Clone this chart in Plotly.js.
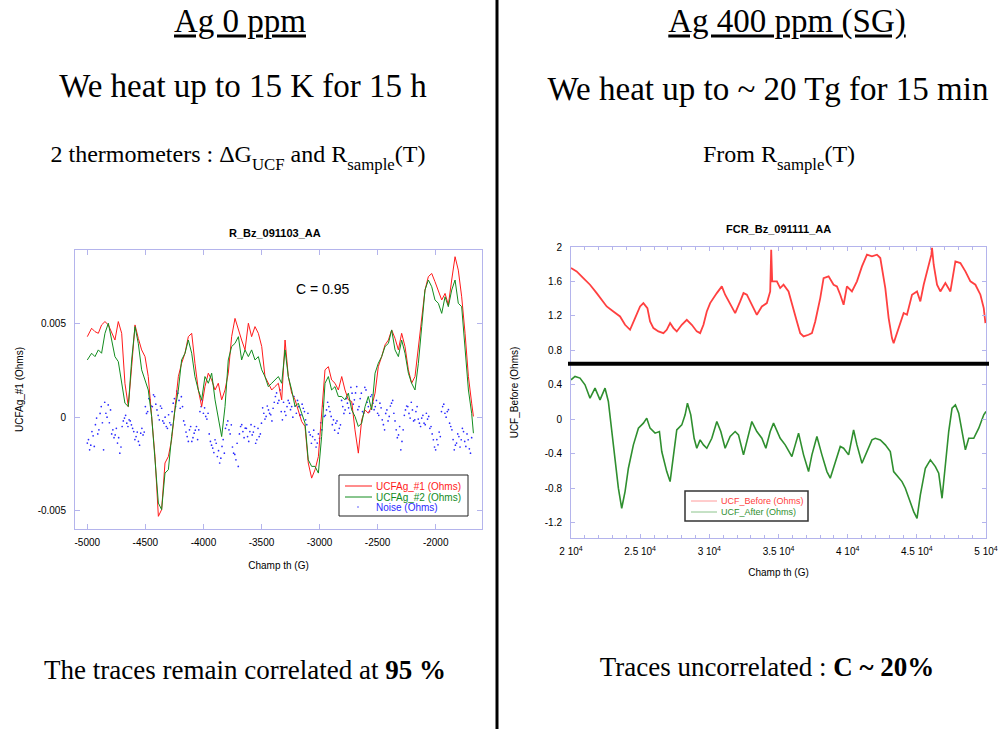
<!DOCTYPE html>
<html>
<head>
<meta charset="utf-8">
<script src="https://cdn.plot.ly/plotly-3.0.1.min.js"></script>
<style>
html,body{margin:0;padding:0;background:#fff}
#wrap{position:relative;width:1005px;height:729px;overflow:hidden}
#chart{position:absolute;left:0;top:0;width:1005px;height:729px}
.slide{position:absolute;white-space:nowrap;line-height:1;font-family:'Liberation Serif','Times New Roman',serif;color:#000;transform:translate(-50%,-50%);margin:0}
</style>
</head>
<body>
<div id="wrap">
<div id="chart"></div>
</div>
<script>
// ---------------- Left chart data (Ag 0 ppm) ----------------
const fieldL = [-5000,-4963,-4934,-4905,-4877,-4848,-4819,-4790,-4762,-4733,-4704,-4676,-4647,-4618,-4589,-4561,-4532,-4503,-4475,-4446,-4417,-4388,-4360,-4331,-4302,-4274,-4245,-4216,-4188,-4159,-4130,-4101,-4073,-4044,-4015,-3987,-3958,-3929,-3900,-3872,-3843,-3814,-3786,-3757,-3728,-3699,-3671,-3642,-3613,-3585,-3556,-3527,-3498,-3470,-3441,-3412,-3384,-3355,-3326,-3297,-3269,-3240,-3211,-3183,-3154,-3125,-3097,-3068,-3039,-3010,-2982,-2953,-2924,-2896,-2867,-2838,-2809,-2781,-2752,-2723,-2695,-2666,-2637,-2608,-2580,-2551,-2522,-2494,-2465,-2436,-2407,-2379,-2350,-2321,-2293,-2264,-2235,-2207,-2178,-2149,-2120,-2092,-2063,-2034,-2006,-1977,-1948,-1919,-1891,-1862,-1833,-1805,-1776,-1747,-1718,-1690,-1675];
// values in milli-ohms
const ucfAg1_mOhm = [4.32,4.77,4.59,4.50,4.95,5.13,4.95,4.50,4.14,5.13,4.50,1.82,0.57,2.71,4.95,4.23,3.61,3.25,2.18,0.04,-2.11,-5.32,-4.96,-2.46,-2.11,-1.21,0.39,2.18,2.89,3.43,4.32,4.50,2.89,1.46,0.57,1.64,2.36,2.00,1.46,1.82,0.93,1.46,2.36,4.32,5.30,4.68,4.14,3.61,5.04,4.32,4.86,4.50,3.79,2.18,1.82,1.46,1.64,1.82,0.93,4.14,2.18,1.29,0.93,0.39,-0.23,-0.50,-2.46,-3.27,-2.82,-2.11,0.04,2.54,2.71,2.00,1.82,1.46,2.18,1.46,0.93,0.84,-0.68,-1.93,-0.14,0.39,0.21,0.57,1.29,2.71,3.25,3.88,4.14,4.68,4.23,3.61,4.50,3.79,2.54,1.82,2.18,3.79,5.39,6.82,7.54,7.71,7.27,6.82,6.29,6.64,6.02,7.36,8.61,7.89,6.46,4.50,2.18,0.75,0.04];
const ucfAg2_mOhm = [3.07,3.43,3.25,3.61,3.43,4.50,5.04,4.14,3.25,2.98,1.82,0.75,0.57,3.07,4.86,3.96,2.54,2.00,1.46,0.04,-2.11,-4.61,-4.96,-3.00,-2.82,-1.04,0.39,1.46,3.07,3.43,4.14,3.43,2.18,1.46,0.93,2.18,1.82,2.36,0.93,0.04,-1.04,0.57,3.07,3.79,3.96,4.32,3.07,3.61,3.25,3.61,3.07,3.25,2.54,2.18,1.64,1.82,2.00,2.18,1.82,3.61,2.18,1.46,0.57,0.75,0.21,-0.32,-2.29,-2.64,-2.64,-3.00,-1.04,1.82,2.18,1.46,1.64,1.11,1.11,0.93,1.29,0.39,0.04,-0.50,-0.32,0.57,1.11,0.39,2.36,2.89,3.25,3.79,3.96,4.68,3.61,3.25,4.14,3.43,2.36,1.82,1.46,2.89,4.86,6.82,7.36,7.00,6.29,6.11,5.57,6.46,5.93,6.82,7.36,6.11,5.93,3.61,1.46,0.21,-0.86];
const noiseFieldA = [-5000,-4980,-4960,-4940,-4920,-4900,-4880,-4860,-4840,-4820,
  -4800,-4780,-4760,-4740,-4720,-4700,-4680,-4660,-4640,-4620,
  -4600,-4580,-4560,-4540,-4520,-4500,-4480,-4460,-4440,-4420,
  -4400,-4380,-4360,-4340,-4320,-4300,-4280,-4260,-4240,-4220,
  -4200,-4180,-4160,-4140,-4120,-4100,-4080,-4060,-4040,-4020,
  -4000,-3980,-3960,-3940,-3920,-3900,-3880,-3860,-3840,-3820,
  -3800,-3780,-3760,-3740,-3720,-3700,-3680,-3660,-3640,-3620,
  -3600,-3580,-3560,-3540,-3520,-3500,-3480,-3460,-3440,-3420,
  -3400,-3380,-3360,-3340,-3320,-3300,-3280,-3260,-3240,-3220,
  -3200,-3180,-3160,-3140,-3120,-3100,-3080,-3060,-3040,-3020,
  -3000,-2980,-2960,-2940,-2920,-2900,-2880,-2860,-2840,-2820,
  -2800,-2780,-2760,-2740,-2720,-2700,-2680,-2660,-2640,-2620,
  -2600,-2580,-2560,-2540,-2520,-2500,-2480,-2460,-2440,-2420,
  -2400,-2380,-2360,-2340,-2320,-2300,-2280,-2260,-2240,-2220,
  -2200,-2180,-2160,-2140,-2120,-2100,-2080,-2060,-2040,-2020,
  -2000,-1980,-1960,-1940,-1920,-1900,-1880,-1860,-1840,-1820,
  -1800,-1780,-1760,-1740,-1720,-1700];
const noiseA_mOhm = [-1.39,-1.75,-0.77,-1.57,-0.05,-0.68,0.57,-1.75,0.21,0.66,
  0.39,-0.68,-0.95,-1.39,-1.93,-0.50,-0.05,-0.32,-0.14,-0.41,
  -0.77,-1.04,-1.30,-0.86,-0.95,0.57,0.30,0.93,0.57,1.11,
  0.39,-0.14,0.48,-0.32,-0.50,0.13,-0.41,0.75,0.57,1.29,
  0.48,0.57,-0.41,-1.04,-0.68,-1.30,-0.86,-0.50,-0.68,0.57,
  0.21,0.04,0.21,-1.30,-1.66,-1.21,-2.11,-2.46,-1.57,-1.93,
  -0.41,-0.68,-0.41,-1.93,-2.29,-2.64,-0.50,-0.77,-0.59,-1.04,
  -0.77,-0.95,-0.50,-1.21,-1.04,-0.32,0.21,0.04,0.39,0.13,
  0.48,1.11,0.75,1.46,-0.14,0.30,0.57,0.75,0.57,1.11,
  0.21,0.57,0.13,0.48,-0.14,0.21,-0.95,-1.04,-1.21,-1.39,
  -1.13,-0.68,0.04,0.39,0.57,0.04,-0.14,-0.32,-0.86,-0.41,
  0.57,0.39,0.75,0.21,1.29,0.93,1.64,0.57,1.29,0.21,
  1.46,0.57,1.11,0.75,0.57,0.21,0.75,-0.14,-0.68,0.39,
  0.04,0.75,0.21,-0.68,-0.95,-1.75,-0.68,0.39,0.57,-0.05,
  0.39,-0.14,0.57,-0.32,-0.05,-0.32,0.21,0.04,-0.50,-1.21,
  -1.75,-1.48,-1.04,0.57,0.21,0.30,-0.32,-0.68,-1.75,-1.39,
  -1.04,-1.21,-0.77,-1.57,-1.21,-1.93];
const noiseFieldB = [-4990,-4970,-4950,-4930,-4910,-4890,-4870,-4850,-4830,-4810,
  -4790,-4770,-4750,-4730,-4710,-4690,-4670,-4650,-4630,-4610,
  -4590,-4570,-4550,-4530,-4510,-4490,-4470,-4450,-4430,-4410,
  -4390,-4370,-4350,-4330,-4310,-4290,-4270,-4250,-4230,-4210,
  -4190,-4170,-4150,-4130,-4110,-4090,-4070,-4050,-4030,-4010,
  -3990,-3970,-3950,-3930,-3910,-3890,-3870,-3850,-3830,-3810,
  -3790,-3770,-3750,-3730,-3710,-3690,-3670,-3650,-3630,-3610,
  -3590,-3570,-3550,-3530,-3510,-3490,-3470,-3450,-3430,-3410,
  -3390,-3370,-3350,-3330,-3310,-3290,-3270,-3250,-3230,-3210,
  -3190,-3170,-3150,-3130,-3110,-3090,-3070,-3050,-3030,-3010,
  -2990,-2970,-2950,-2930,-2910,-2890,-2870,-2850,-2830,-2810,
  -2790,-2770,-2750,-2730,-2710,-2690,-2670,-2650,-2630,-2610,
  -2590,-2570,-2550,-2530,-2510,-2490,-2470,-2450,-2430,-2410,
  -2390,-2370,-2350,-2330,-2310,-2290,-2270,-2250,-2230,-2210,
  -2190,-2170,-2150,-2130,-2110,-2090,-2070,-2050,-2030,-2010,
  -1990,-1970,-1950,-1930,-1910,-1890,-1870,-1850,-1830,-1810,
  -1790,-1770,-1750,-1730,-1710,-1690];
const noiseB_mOhm = [-1.2,-1.5,-1.0,-0.4,-0.9,0.2,-0.3,0.8,0.0,-0.3,
  -0.9,-1.1,-0.6,-1.1,-1.6,-0.2,0.1,-0.5,-0.2,-0.6,
  -1.2,-0.8,-1.5,-0.6,-0.8,0.2,1.0,0.6,1.2,0.7,
  0.1,0.6,-0.2,0.0,-0.6,-0.3,0.3,1.0,1.4,0.9,
  1.1,-0.2,-0.8,-1.3,-0.5,-1.1,-0.7,-1.2,0.3,0.9,
  0.5,-0.1,-0.9,-1.5,-1.9,-1.4,-1.8,-2.2,-1.2,-0.6,
  -0.2,-0.9,-1.6,-2.0,-1.4,-0.9,-0.4,-1.1,-0.6,-1.3,
  -0.4,-0.8,-1.4,-0.6,-0.9,0.5,-0.1,0.6,0.2,-0.2,
  0.8,1.3,0.9,0.3,0.8,0.1,0.9,0.4,0.0,0.6,
  0.9,0.1,0.7,0.3,-0.4,-0.8,-1.4,-0.7,-1.6,-0.9,
  -0.3,0.6,0.1,0.8,0.3,-0.4,-0.7,-0.2,-0.6,0.9,
  0.2,1.0,0.5,1.6,0.7,1.3,0.4,1.0,0.3,1.6,
  0.8,0.3,1.2,0.4,0.9,0.1,0.5,-0.4,0.2,-0.2,
  0.6,0.9,-0.2,-1.1,-0.5,-1.3,0.1,0.6,0.2,0.8,
  -0.2,0.3,-0.1,-0.5,0.1,-0.4,-0.1,-0.6,-0.9,-1.6,
  -1.2,-0.8,0.3,0.7,0.0,0.4,-0.5,-1.2,-1.5,-0.9,
  -1.6,-0.6,-1.3,-0.9,-1.7,-1.1];
const xTickValsL = [-5000,-4500,-4000,-3500,-3000,-2500,-2000];
const xTickTextL = ['-5000','-4500','-4000','-3500','-3000','-2500','-2000'];
const yTickValsL = [-0.005,0,0.005];
const yTickTextL = ['-0.005','0','0.005'];
const correlationLabel = 'C = 0.95';

// ---------------- Right chart data (Ag 400 ppm) ----------------
const fieldBefore = [20000,20410,20892,21375,21857,22340,22581,23063,23546,23907,24269,24631,24993,25234,25523,25716,25958,26319,26681,26922,27164,27405,27646,28008,28370,28731,29093,29334,29576,29817,30058,30541,30902,31143,31505,31867,32229,32470,32711,33073,33435,33797,34158,34400,34472,34544,34882,35123,35364,35726,36088,36329,36570,36812,37173,37415,37656,38018,38259,38621,38982,39224,39465,39706,39947,40309,40671,41033,41395,41756,42118,42359,42721,42962,43203,43324,43686,44048,44289,44651,45013,45254,45495,45857,46050,46098,46146,46219,46460,46701,47063,47425,47787,48149,48511,48872,49234,49596,49837,49958];
const ucfBefore = [1.756,1.717,1.639,1.562,1.465,1.368,1.310,1.252,1.194,1.097,1.039,1.175,1.310,1.349,1.291,1.136,1.059,1.020,1.000,1.039,1.117,1.059,1.020,1.097,1.155,1.097,1.020,1.000,1.097,1.252,1.349,1.465,1.543,1.446,1.330,1.233,1.368,1.465,1.446,1.330,1.213,1.310,1.349,1.484,1.969,1.601,1.601,1.523,1.562,1.484,1.291,1.136,1.000,0.962,0.981,1.000,1.136,1.407,1.639,1.659,1.562,1.543,1.446,1.330,1.543,1.484,1.601,1.775,1.911,1.891,1.911,1.872,1.523,1.175,0.942,0.884,1.059,1.233,1.213,1.446,1.484,1.368,1.562,1.794,1.911,1.990,1.872,1.794,1.562,1.484,1.581,1.484,1.833,1.814,1.717,1.601,1.562,1.446,1.291,1.116];
const fieldAfter = [20000,20289,20651,21013,21375,21737,22098,22460,22701,22943,23184,23425,23666,23907,24149,24510,24872,25234,25475,25716,26078,26392,26561,26922,27164,27405,27646,28008,28249,28418,28659,28900,29093,29334,29576,29817,30179,30541,30830,31143,31505,31867,32108,32470,32832,33073,33435,33797,34086,34400,34641,34882,35123,35485,35968,36209,36450,36812,37173,37415,37776,38138,38500,38741,39103,39465,39706,40068,40430,40671,41033,41395,41756,41997,42359,42721,43082,43324,43686,43927,44168,44410,44772,45013,45254,45616,45978,46340,46581,46822,47063,47304,47546,47787,48028,48270,48511,48752,49114,49476,49837,50000];
const ucfAfter = [0.458,0.497,0.478,0.400,0.245,0.361,0.226,0.361,0.207,-0.142,-0.530,-0.800,-1.033,-0.839,-0.568,-0.297,-0.103,-0.045,0.013,-0.103,-0.161,-0.142,-0.374,-0.607,-0.723,-0.452,-0.123,-0.065,0.052,0.187,0.052,-0.220,-0.336,-0.239,-0.297,-0.336,-0.220,-0.026,-0.142,-0.336,-0.200,-0.142,-0.181,-0.413,-0.181,-0.026,-0.142,-0.220,-0.336,-0.142,-0.045,-0.142,-0.220,-0.297,-0.433,-0.297,-0.161,-0.413,-0.607,-0.413,-0.200,-0.413,-0.607,-0.684,-0.491,-0.316,-0.336,-0.413,-0.123,-0.297,-0.510,-0.374,-0.239,-0.220,-0.239,-0.297,-0.374,-0.607,-0.684,-0.723,-0.800,-0.917,-1.072,-1.149,-0.878,-0.568,-0.471,-0.549,-0.626,-0.917,-0.530,-0.142,0.129,0.168,0.071,-0.142,-0.355,-0.220,-0.220,-0.103,0.052,0.091];
const separatorLevel = 0.644;
const xTickValsR = [20000,25000,30000,35000,40000,45000,50000];
const xTickTextR = ['2 10<sup>4</sup>','2.5 10<sup>4</sup>','3 10<sup>4</sup>','3.5 10<sup>4</sup>','4 10<sup>4</sup>','4.5 10<sup>4</sup>','5 10<sup>4</sup>'];
const xMinorValsR = [21000,22000,23000,24000,26000,27000,28000,29000,31000,32000,33000,34000,36000,37000,38000,39000,41000,42000,43000,44000,46000,47000,48000,49000];
const yTickValsR = [-1.2,-0.8,-0.4,0,0.4,0.8,1.2,1.6,2];
const yTickTextR = ['-1.2','-0.8','-0.4','0','0.4','0.8','1.2','1.6','2'];

// ---------------- slide texts (HTML, around the two charts) ----------------
// each piece: [text, sizeFactor, bold, subscript]
const slideTexts = [
  {parts: [['Ag 0 ppm', 1, false, false]], x: 240, y: 21, size: 33, underline: true},
  {parts: [['We heat up to 15 K for 15 h', 1, false, false]], x: 243, y: 86, size: 33},
  {parts: [['2 thermometers : ΔG', 1, false, false], ['UCF', 0.7, false, true], [' and R', 1, false, false], ['sample', 0.7, false, true], ['(T)', 1, false, false]], x: 238, y: 154, size: 24},
  {parts: [['Ag 400 ppm (SG)', 1, false, false]], x: 787, y: 21, size: 33, underline: true},
  {parts: [['We heat up to ~ 20 Tg for 15 min', 1, false, false]], x: 768, y: 89, size: 33},
  {parts: [['From R', 1, false, false], ['sample', 0.7, false, true], ['(T)', 1, false, false]], x: 779, y: 154, size: 24},
  {parts: [['The traces remain correlated at ', 1, false, false], ['95 %', 1, true, false]], x: 245, y: 670, size: 27},
  {parts: [['Traces uncorrelated : ', 1, false, false], ['C ~ 20%', 1, true, false]], x: 767, y: 667, size: 27}
];
const wrap = document.getElementById('wrap');
slideTexts.forEach(t => {
  const d = document.createElement('div');
  d.className = 'slide';
  d.style.left = t.x + 'px';
  d.style.top = t.y + 'px';
  d.style.fontSize = t.size + 'px';
  if (t.underline) { d.style.textDecoration = 'underline'; d.style.textUnderlineOffset = '3px'; }
  t.parts.forEach(p => {
    const s = document.createElement('span');
    s.textContent = p[0];
    s.style.fontSize = (t.size * p[1]) + 'px';
    s.style.fontFamily = "'Liberation Serif','Times New Roman',serif";
    s.style.fontWeight = p[2] ? 'bold' : 'normal';
    if (p[3]) { s.style.position = 'relative'; s.style.top = (t.size * 0.32) + 'px'; }
    d.appendChild(s);
  });
  wrap.appendChild(d);
});

// ---------------- build chart ----------------
const W = 1005, H = 729;
const PX = v => v / W;
const PY = v => 1 - v / H;
const SANS = 'Liberation Sans, Arial, sans-serif';
const AX = '#b4b4ec';
const RED = '#ff1a1a', GREEN = '#128c1e', BLUE = '#2a2aff';
const RED2 = '#ff4040', GREEN2 = '#2f8f2f';

const traces = [
  {x: noiseFieldA.concat(noiseFieldB), y: noiseA_mOhm.concat(noiseB_mOhm).map(v => v / 1000),
   type: 'scatter', mode: 'markers',
   marker: {size: 1.7, color: BLUE}, name: 'Noise (Ohms)', xaxis: 'x', yaxis: 'y'},
  {x: fieldL, y: ucfAg1_mOhm.map(v => v / 1000), type: 'scatter', mode: 'lines',
   line: {color: RED, width: 1}, name: 'UCFAg_#1 (Ohms)', xaxis: 'x', yaxis: 'y'},
  {x: fieldL, y: ucfAg2_mOhm.map(v => v / 1000), type: 'scatter', mode: 'lines',
   line: {color: GREEN, width: 1}, name: 'UCFAg_#2 (Ohms)', xaxis: 'x', yaxis: 'y'},
  {x: fieldBefore, y: ucfBefore, type: 'scatter', mode: 'lines',
   line: {color: RED2, width: 1.8}, name: 'UCF_Before (Ohms)', xaxis: 'x2', yaxis: 'y2'},
  {x: fieldAfter, y: ucfAfter, type: 'scatter', mode: 'lines',
   line: {color: GREEN2, width: 1.6}, name: 'UCF_After (Ohms)', xaxis: 'x2', yaxis: 'y2'}
];

function axisBase() {
  return {showline: true, linecolor: AX, linewidth: 1, mirror: 'ticks', ticks: 'inside',
          tickcolor: AX, showgrid: false, zeroline: false, tickmode: 'array',
          tickfont: {family: SANS, size: 10, color: '#000'}};
}

const xaxis = Object.assign(axisBase(), {
  domain: [PX(75), PX(482)], range: [-5106, -1601], anchor: 'y',
  tickvals: xTickValsL, ticktext: xTickTextL, ticklen: 5, ticklabelstandoff: 4,
  title: {text: 'Champ th (G)', font: {family: SANS, size: 10, color: '#000'}, standoff: 14}
});
const yaxis = Object.assign(axisBase(), {
  domain: [PY(529), PY(250)], range: [-0.006, 0.00897], anchor: 'x',
  tickvals: yTickValsL, ticktext: yTickTextL, ticklen: 5, ticklabelstandoff: 6,
  title: {text: 'UCFAg_#1 (Ohms)', font: {family: SANS, size: 10, color: '#000'}, standoff: 12}
});
const xaxis2 = Object.assign(axisBase(), {
  domain: [PX(571), PX(986)], range: [20000, 50000], anchor: 'y2',
  tickvals: xTickValsR, ticktext: xTickTextR, ticklen: 4, ticklabelstandoff: 4,
  minor: {tickmode: 'array', tickvals: xMinorValsR, ticks: 'inside', ticklen: 3, tickcolor: AX},
  title: {text: 'Champ th (G)', font: {family: SANS, size: 10, color: '#000'}, standoff: 12}
});
const yaxis2 = Object.assign(axisBase(), {
  domain: [PY(538), PY(247)], range: [-1.378, 2], anchor: 'x2',
  tickvals: yTickValsR, ticktext: yTickTextR, ticklen: 4, ticklabelstandoff: 6,
  title: {text: 'UCF_Before (Ohms)', font: {family: SANS, size: 10, color: '#000'}, standoff: 24}
});

function ann(text, x, y, size, color, anchor, weight) {
  return {text: text, x: PX(x), y: PY(y), xref: 'paper', yref: 'paper',
    xanchor: anchor || 'center', yanchor: 'middle', showarrow: false,
    font: {family: SANS, size: size, color: color || '#000', weight: weight || 'normal'}};
}

const annotations = [
  ann('R_Bz_091103_AA', 275, 233, 11, '#000', 'center', 'bold'),
  ann('FCR_Bz_091111_AA', 778, 229, 11, '#000', 'center', 'bold'),
  ann(correlationLabel, 323, 289, 14),
  ann(traces[1].name, 374, 486, 10, RED, 'left'),
  ann(traces[2].name, 374, 497, 10, GREEN, 'left'),
  ann(traces[0].name, 374, 507, 10, BLUE, 'left'),
  ann(traces[3].name, 719, 501, 9, RED2, 'left'),
  ann(traces[4].name, 719, 512, 9, GREEN2, 'left')
];

function pline(x0, y0, x1, y1, color, width) {
  return {type: 'line', xref: 'paper', yref: 'paper', x0: PX(x0), y0: PY(y0), x1: PX(x1), y1: PY(y1),
          line: {color: color, width: width}};
}
const shapes = [
  pline(497, 0, 497, 729, '#000', 3),
  {type: 'line', xref: 'paper', yref: 'y2', x0: PX(568), x1: PX(989), y0: separatorLevel, y1: separatorLevel,
   line: {color: '#000', width: 4}},
  {type: 'rect', xref: 'paper', yref: 'paper', x0: PX(339), x1: PX(468), y0: PY(516), y1: PY(475),
   line: {color: '#222', width: 1}, fillcolor: '#fff'},
  pline(345, 486, 372, 486, RED, 1),
  pline(345, 497, 372, 497, GREEN, 1),
  {type: 'circle', xref: 'paper', yref: 'paper', x0: PX(357.3), x1: PX(358.7), y0: PY(507.7), y1: PY(506.3),
   line: {width: 0}, fillcolor: BLUE},
  {type: 'rect', xref: 'paper', yref: 'paper', x0: PX(685), x1: PX(808), y0: PY(521), y1: PY(491),
   line: {color: '#333', width: 1.5}, fillcolor: '#fff'},
  pline(691, 501, 717, 501, '#ff9a9a', 1),
  pline(691, 512, 717, 512, '#8cc48c', 1)
];

const layout = {
  width: W, height: H, margin: {l: 0, r: 0, t: 0, b: 0},
  paper_bgcolor: 'rgba(0,0,0,0)', plot_bgcolor: '#fff', showlegend: false,
  font: {family: SANS, size: 10, color: '#000'},
  xaxis: xaxis, yaxis: yaxis, xaxis2: xaxis2, yaxis2: yaxis2,
  annotations: annotations, shapes: shapes
};

Plotly.newPlot('chart', traces, layout, {displayModeBar: false});
</script>
</body>
</html>
